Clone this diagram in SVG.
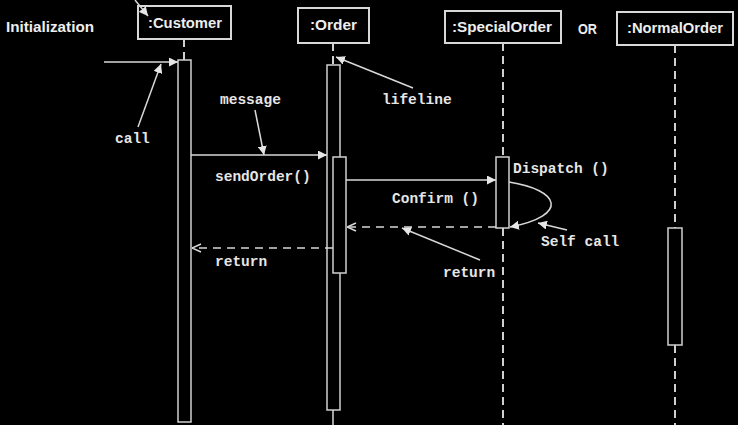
<svg xmlns="http://www.w3.org/2000/svg" width="738" height="425" viewBox="0 0 738 425">
<defs>
<marker id="fill" viewBox="0 0 10 10" refX="10" refY="5" markerWidth="9" markerHeight="9" markerUnits="userSpaceOnUse" orient="auto"><path d="M0,0 L10,5 L0,10 Z" fill="#e6e6e6"/></marker>
<marker id="open" viewBox="0 0 10 10" refX="10" refY="5" markerWidth="10" markerHeight="10" markerUnits="userSpaceOnUse" orient="auto"><path d="M1,1 L10,5 L1,9" fill="none" stroke="#d8d8d8" stroke-width="1.5"/></marker>
<style>
.box{fill:#000;stroke:#d8d8d8;stroke-width:2}
.bar{fill:#000;stroke:#d0d0d0;stroke-width:1.5}
.life{stroke:#d0d0d0;stroke-width:2;stroke-dasharray:8 5;fill:none}
.ln{stroke:#d8d8d8;stroke-width:1.5;fill:none}
.dash{stroke:#d8d8d8;stroke-width:1.5;fill:none;stroke-dasharray:8 6}
.bt{font-family:"Liberation Sans",Arial,sans-serif;font-weight:bold;font-size:14px;fill:#eeeeee}
.mt{font-family:"Liberation Mono","Courier New",monospace;font-weight:bold;font-size:14.5px;fill:#e6e6e6}
</style>
</defs>
<rect width="738" height="425" fill="#000"/>
<text class="bt" x="6" y="32" textLength="88" lengthAdjust="spacingAndGlyphs">Initialization</text>
<text class="bt" x="578" y="34" font-size="11" font-weight="normal" textLength="19" lengthAdjust="spacingAndGlyphs">OR</text>

<g id="customer">
<rect class="box" x="138" y="6" width="93" height="33"/>
<text class="bt" x="148" y="28" textLength="74" lengthAdjust="spacingAndGlyphs">:Customer</text>
<line class="life" x1="184" y1="39" x2="184" y2="60"/>
<rect class="bar" x="178" y="60" width="13" height="362"/>
</g>

<g id="order">
<rect class="box" x="298" y="8" width="71" height="35"/>
<text class="bt" x="310" y="30" textLength="47" lengthAdjust="spacingAndGlyphs">:Order</text>
<line class="life" x1="333" y1="43" x2="333" y2="65"/>
<rect class="bar" x="327" y="65" width="13" height="345"/>
<rect class="bar" x="333" y="157" width="13" height="116"/>
<line class="ln" x1="333" y1="410" x2="333" y2="425"/>
</g>

<g id="specialorder">
<rect class="box" x="445" y="11" width="116" height="32"/>
<text class="bt" x="452" y="32" textLength="100" lengthAdjust="spacingAndGlyphs">:SpecialOrder</text>
<line class="life" x1="503" y1="43" x2="503" y2="157"/>
<rect class="bar" x="496" y="157" width="13" height="71"/>
<line class="life" x1="503" y1="228" x2="503" y2="425"/>
</g>

<g id="normalorder">
<rect class="box" x="617" y="12" width="116" height="33"/>
<text class="bt" x="627" y="33" textLength="96" lengthAdjust="spacingAndGlyphs">:NormalOrder</text>
<line class="life" x1="675" y1="45" x2="675" y2="228"/>
<rect class="bar" x="668" y="228" width="14" height="117"/>
<line class="life" x1="675" y1="345" x2="675" y2="425"/>
</g>

<g id="connectors">
<line class="ln" x1="135" y1="0" x2="148" y2="16" marker-end="url(#fill)"/>
<line class="ln" x1="104" y1="62" x2="178" y2="62" marker-end="url(#fill)"/>
<line class="ln" x1="138" y1="127" x2="161" y2="64" marker-end="url(#fill)"/>
<line class="ln" x1="413" y1="88" x2="336" y2="57" marker-end="url(#fill)"/>
<line class="ln" x1="255" y1="110" x2="264" y2="155" marker-end="url(#fill)"/>
<line class="ln" x1="191" y1="155" x2="327" y2="155" marker-end="url(#fill)"/>
<line class="ln" x1="346" y1="180" x2="496" y2="180" marker-end="url(#fill)"/>
<path class="ln" d="M509,182 C560,190 570,215 510,227" marker-end="url(#fill)"/>
<line class="dash" x1="496" y1="227" x2="347" y2="227" marker-end="url(#open)"/>
<line class="dash" x1="333" y1="248" x2="192" y2="248" marker-end="url(#open)"/>
<line class="ln" x1="480" y1="260" x2="402" y2="228" marker-end="url(#fill)"/>
<line class="ln" x1="567" y1="230" x2="538" y2="223" marker-end="url(#fill)"/>
</g>

<g id="labels">
<text class="mt" x="115" y="143">call</text>
<text class="mt" x="220" y="104">message</text>
<text class="mt" x="382" y="104">lifeline</text>
<text class="mt" x="215" y="181">sendOrder()</text>
<text class="mt" x="392" y="203">Confirm ()</text>
<text class="mt" x="513" y="173">Dispatch ()</text>
<text class="mt" x="541" y="246">Self call</text>
<text class="mt" x="215" y="266">return</text>
<text class="mt" x="443" y="277">return</text>
</g>
</svg>
